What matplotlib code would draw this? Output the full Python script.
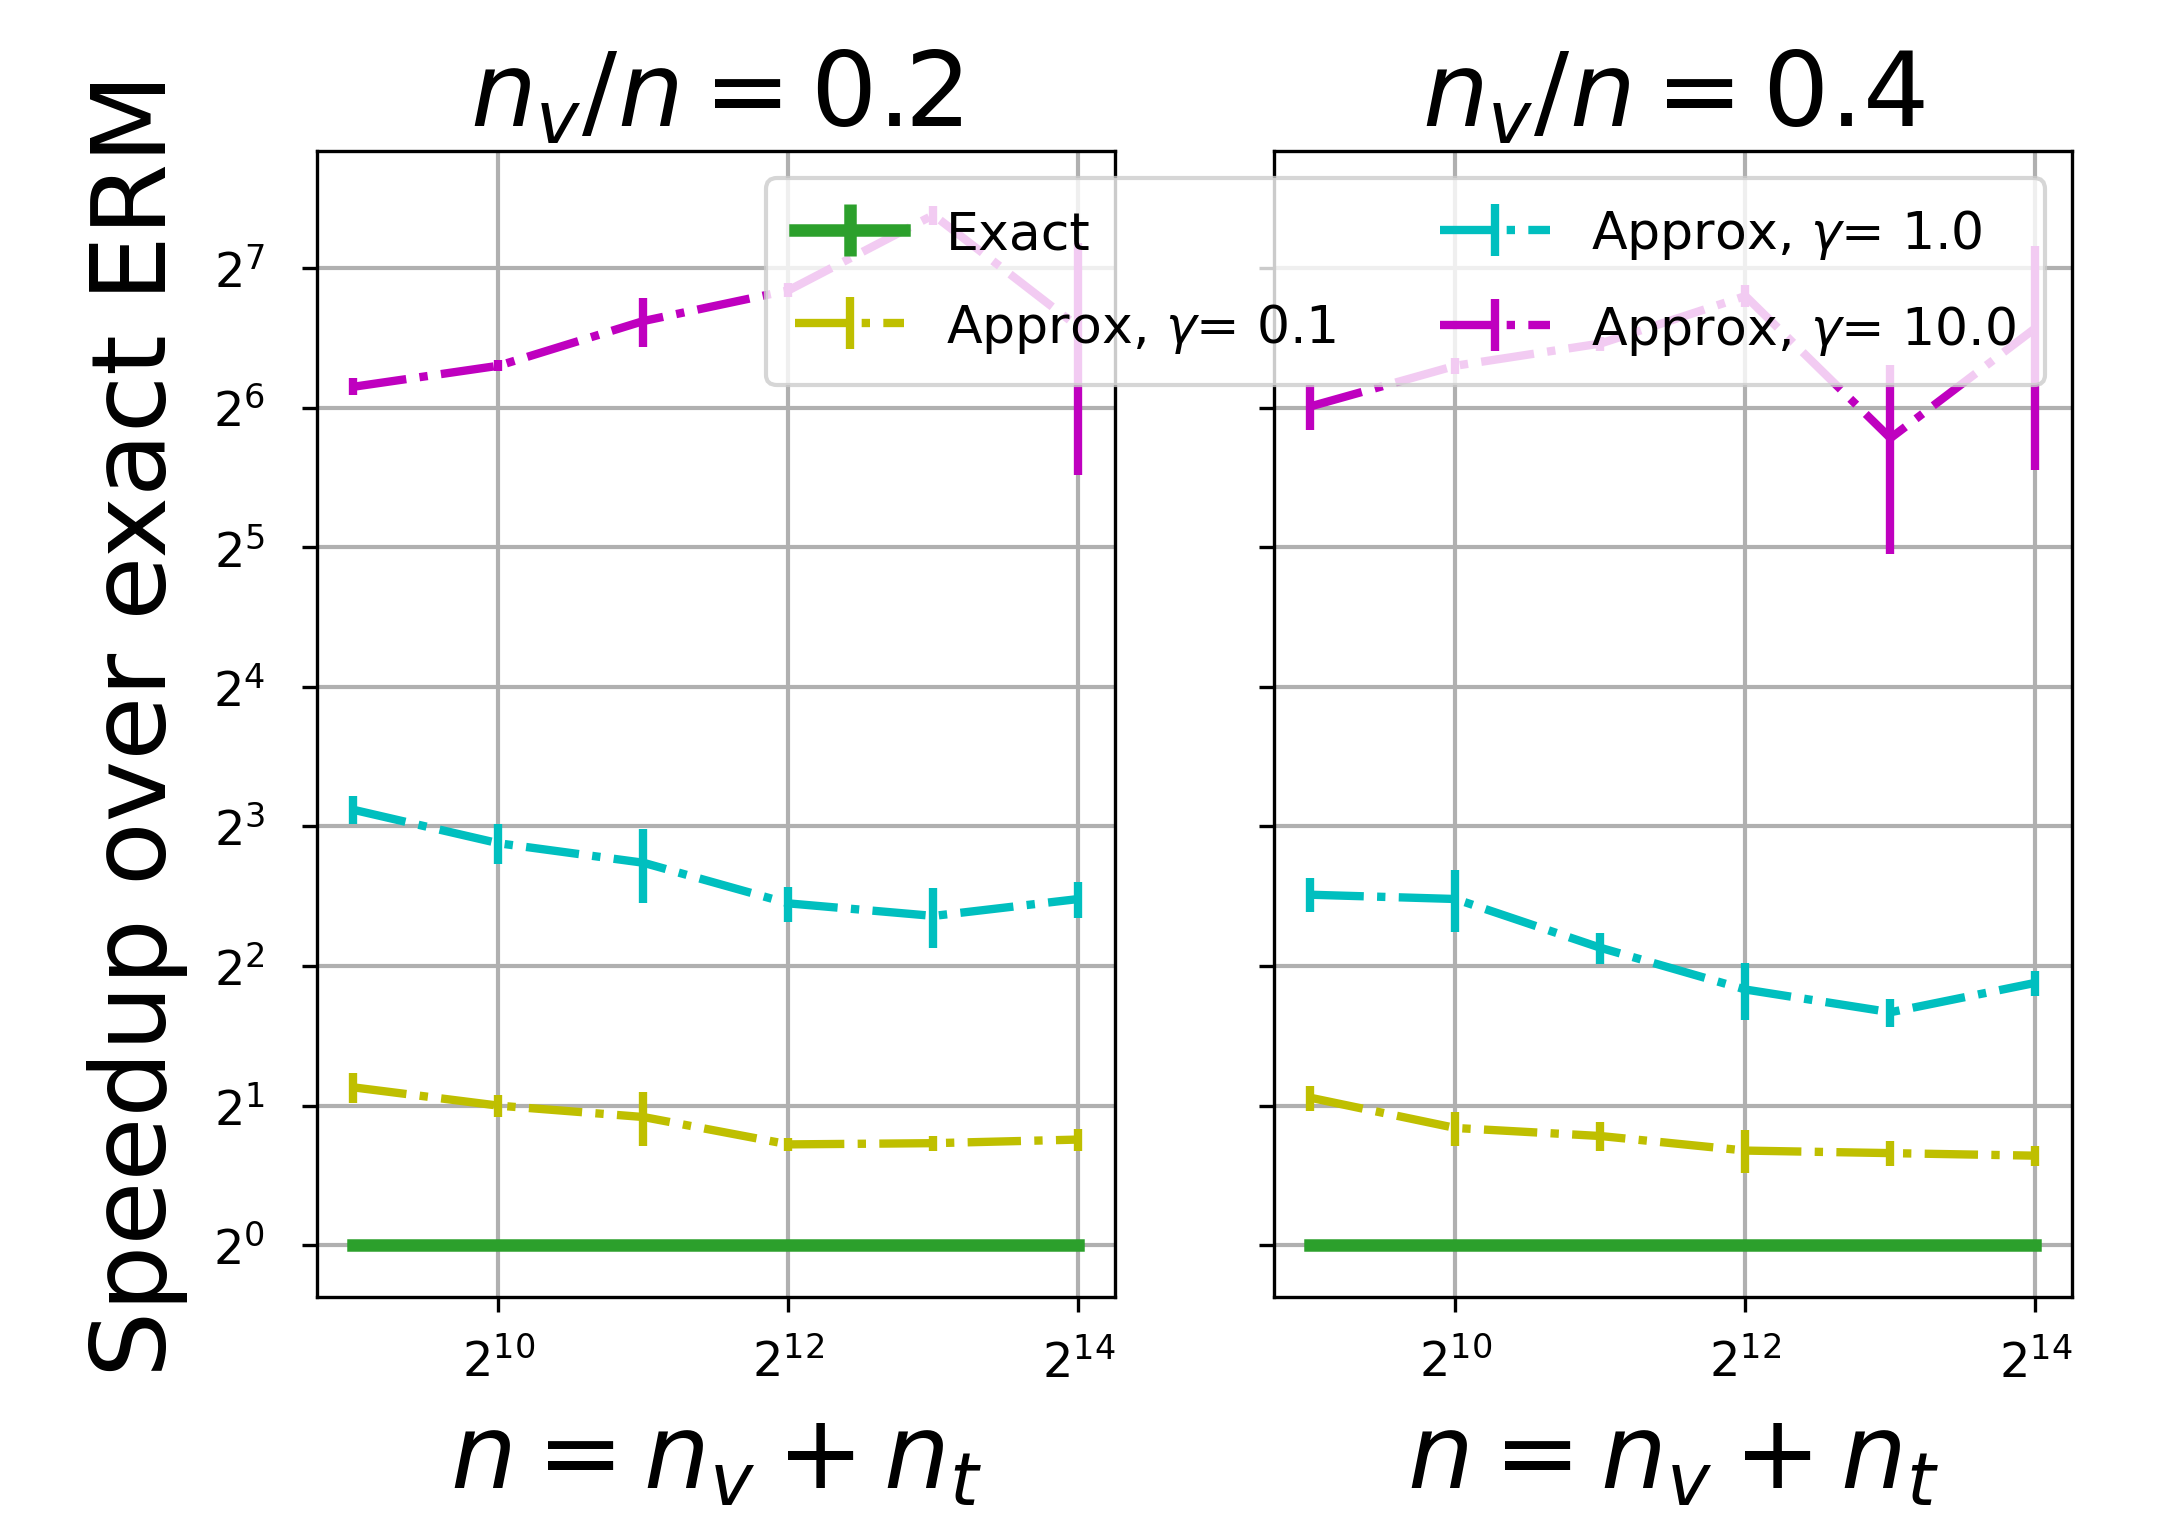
import numpy as np
import matplotlib
matplotlib.use("Agg")
import matplotlib.pyplot as plt
from matplotlib.ticker import NullLocator

# problem sizes n = n_v + n_t
n = [512, 1024, 2048, 4096, 8192, 16384]
ratios = [0.2, 0.4]
gammas = [0.1, 1.0, 10.0]

# speedup over exact ERM (mean, std) per panel
exact = [1, 1, 1, 1, 1, 1]

g01_mean = [[2.19, 2.00, 1.89, 1.65, 1.66, 1.69],
            [2.08, 1.79, 1.72, 1.60, 1.58, 1.56]]
g01_err = [[0.16, 0.11, 0.25, 0.05, 0.06, 0.09],
           [0.13, 0.15, 0.12, 0.17, 0.10, 0.08]]

g1_mean = [[8.69, 7.36, 6.68, 5.46, 5.13, 5.58],
           [5.70, 5.58, 4.38, 3.56, 3.18, 3.68]]
g1_err = [[0.60, 0.72, 1.20, 0.47, 0.75, 0.50],
          [0.48, 0.85, 0.33, 0.50, 0.22, 0.23]]

g10_mean = [[71.0, 78.8, 98.4, 114.6, 166.6, 95.5],
            [64.4, 78.8, 88.0, 111.4, 55.0, 95.0]]
g10_err = [[3.0, 2.2, 12.0, 4.0, 8.0, 49.6],
           [7.1, 3.0, 3.0, 6.0, 24.0, 48.0]]

fig, axes = plt.subplots(1, 2, figsize=(2158 / 300, 1518 / 300), dpi=300, sharey=True)
fig.subplots_adjust(left=0.147, right=0.96, bottom=0.145, top=0.9, wspace=0.2)

for i, ax in enumerate(axes):
    ax.errorbar(n, exact, yerr=np.zeros(len(n)), color="tab:green", lw=3.0,
                label="Exact")
    ax.errorbar(n, g01_mean[i], yerr=g01_err[i], color="y", ls="-.", lw=2.0,
                label=r"Approx, $\gamma$= %.1f" % gammas[0])
    ax.errorbar(n, g1_mean[i], yerr=g1_err[i], color="c", ls="-.", lw=2.0,
                label=r"Approx, $\gamma$= %.1f" % gammas[1])
    ax.errorbar(n, g10_mean[i], yerr=g10_err[i], color="m", ls="-.", lw=2.0,
                label=r"Approx, $\gamma$= %.1f" % gammas[2])
    ax.set_xscale("log", base=2)
    ax.set_yscale("log", base=2)
    ax.set_xticks([2**10, 2**12, 2**14])
    ax.xaxis.set_minor_locator(NullLocator())
    ax.yaxis.set_minor_locator(NullLocator())
    ax.set_yticks([2**k for k in range(8)])
    ax.set_xlim(2**8.75, 2**14.25)
    ax.set_ylim(2**-0.37, 2**7.84)
    ax.tick_params(labelsize=11.5)
    ax.tick_params(axis="x", pad=6.5)
    ax.tick_params(axis="y", pad=9)
    ax.grid(True, color="#b0b0b0", lw=1.0)
    ax.set_title(r"$n_v/n = %.1f$" % ratios[i], fontsize=25)
    ax.set_xlabel(r"$n = n_v + n_t$", fontsize=25, labelpad=5.5)

axes[0].set_ylabel("Speedup over exact ERM", fontsize=25, labelpad=6)

handles, labels = axes[0].get_legend_handles_labels()
fig.legend(handles, labels, ncol=2, fontsize=12.5, loc="upper left",
           bbox_to_anchor=(0.343, 0.899), handlelength=2.1,
           labelspacing=0.8, borderpad=0.55)

fig.savefig("out.png", dpi=300)
